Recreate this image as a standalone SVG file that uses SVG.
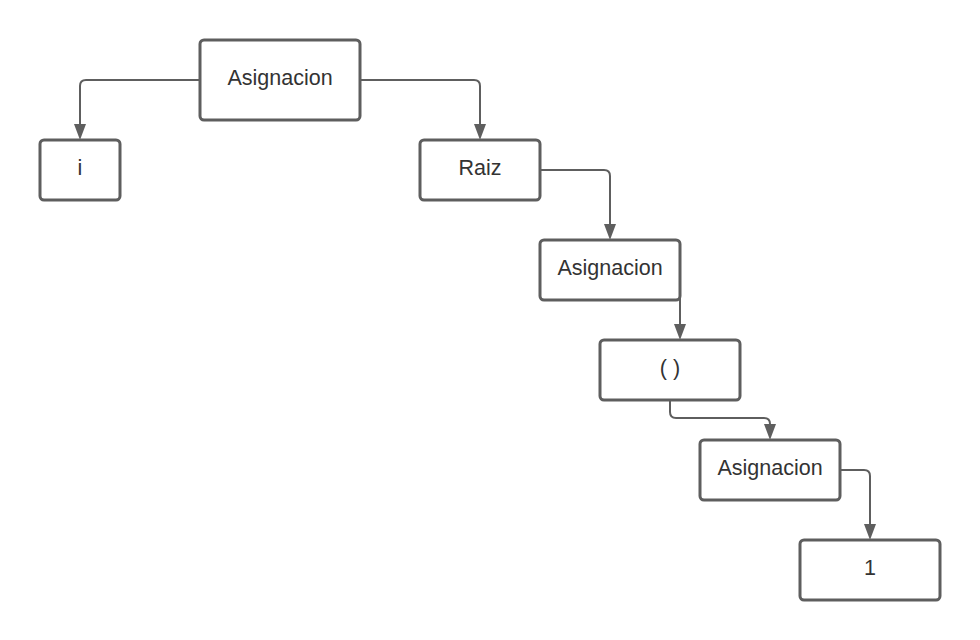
<svg xmlns="http://www.w3.org/2000/svg" width="980" height="640" viewBox="0 0 980 640">
<defs>
<style>
.box{fill:#fff;stroke:#5e5e5e;stroke-width:3}
.lbl{font-family:"Liberation Sans",Arial,sans-serif;font-size:21.5px;fill:#333;text-anchor:middle;dominant-baseline:central}
.edge{fill:none;stroke:#5e5e5e;stroke-width:2}
.head{fill:#5e5e5e}
</style>
</defs>
<rect width="980" height="640" fill="#fff"/>
<g id="connectors">
<path class="edge" d="M200 80 H86 Q80 80 80 86 V124"/>
<path class="edge" d="M360 80 H474 Q480 80 480 86 V124"/>
<path class="edge" d="M540 170 H604 Q610 170 610 176 V224"/>
<path class="edge" d="M680 270 V324"/>
<path class="edge" d="M670 400 V412 Q670 418 676 418 H764 Q770 418 770 424"/>
<path class="edge" d="M840 470 H864 Q870 470 870 476 V524"/>
<path class="head" d="M74 124 H86 L80 140 Z"/>
<path class="head" d="M474 124 H486 L480 140 Z"/>
<path class="head" d="M604 224 H616 L610 240 Z"/>
<path class="head" d="M674 324 H686 L680 340 Z"/>
<path class="head" d="M764 424 H776 L770 440 Z"/>
<path class="head" d="M864 524 H876 L870 540 Z"/>
</g>
<g id="n1"><rect class="box" x="200" y="40" width="160" height="80" rx="4"/><text class="lbl" x="280" y="78">Asignacion</text></g>
<g id="n2"><rect class="box" x="40" y="140" width="80" height="60" rx="4"/><text class="lbl" x="80" y="168">i</text></g>
<g id="n3"><rect class="box" x="420" y="140" width="120" height="60" rx="4"/><text class="lbl" x="480" y="168">Raiz</text></g>
<g id="n4"><rect class="box" x="540" y="240" width="140" height="60" rx="4"/><text class="lbl" x="610" y="268">Asignacion</text></g>
<g id="n5"><rect class="box" x="600" y="340" width="140" height="60" rx="4"/><text class="lbl" x="670" y="368">( )</text></g>
<g id="n6"><rect class="box" x="700" y="440" width="140" height="60" rx="4"/><text class="lbl" x="770" y="468">Asignacion</text></g>
<g id="n7"><rect class="box" x="800" y="540" width="140" height="60" rx="4"/><text class="lbl" x="870" y="568">1</text></g>
</svg>
